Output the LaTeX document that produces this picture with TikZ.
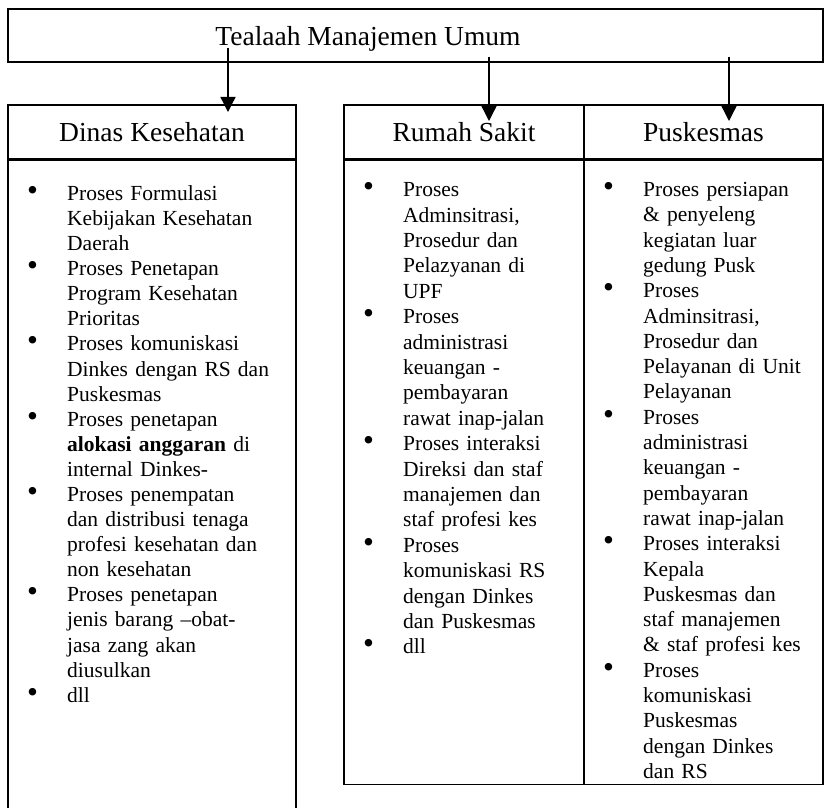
\documentclass[tikz,border=0pt]{standalone}
\usepackage{fontspec}
\setmainfont{Liberation Serif}
\usepackage{graphicx}
\usetikzlibrary{arrows.meta}
\newcommand{\headfont}{\fontsize{27.5pt}{30pt}\selectfont}
\newcommand{\nl}{\newline}
\newcommand{\itm}[1]{\par\hangindent=59pt\hangafter=1\noindent\makebox[59pt][l]{\rule{0pt}{18pt}\hspace{19pt}\scalebox{1.45}{\textbullet}}#1\par}
\begin{document}
\begin{tikzpicture}[x=1pt,y=-1pt,
  cell/.style={draw, line width=1.2pt, inner sep=0pt},
  head/.style={cell, minimum height=54pt, font=\headfont},
  body/.style={anchor=north west, inner sep=0pt, text width=290pt},
  arr/.style={line width=1.3pt, -{Triangle[width=15pt,length=15pt]}}]
\useasboundingbox (0,0) rectangle (825,808);
\clip (0,0) rectangle (825,808);
% top box
\node[cell, minimum width=815pt, minimum height=53pt] (topbox) at (415.5,35.5) {};
\node[anchor=base, inner sep=0pt, font=\headfont] (title) at (368,46) {Tealaah Manajemen Umum};
% header cells
\node[head, minimum width=288pt] (dinasH) at (152,132) {Dinas Kesehatan};
\node[head, minimum width=240pt] (rsH) at (464,132) {Rumah Sakit};
\node[head, minimum width=239pt] (puskH) at (703.5,132) {Puskesmas};
% body cells
\node[cell, minimum width=288pt, minimum height=680pt, anchor=north] (dinasB) at (dinasH.south) {};
\node[cell, minimum width=240pt, minimum height=624pt, anchor=north] (rsB) at (rsH.south) {};
\node[cell, minimum width=239pt, minimum height=624pt, anchor=north] (puskB) at (puskH.south) {};
% arrows
\coordinate (a1s) at (228,48);
\coordinate (a1e) at (228,112);
\coordinate (a2s) at (489,57);
\coordinate (a2e) at (489,121);
\coordinate (a3s) at (729,57);
\coordinate (a3e) at (729,121);
\draw[arr] (a1s) -- (a1e);
\draw[arr] (a2s) -- (a2e);
\draw[arr] (a3s) -- (a3e);
% body texts
\node[body, font=\fontsize{21.5pt}{25.1pt}\selectfont] (dinasT) at (8,175) {%
\itm{Proses Formulasi\nl Kebijakan Kesehatan\nl Daerah}
\itm{Proses Penetapan\nl Program Kesehatan\nl Prioritas}
\itm{Proses komuniskasi\nl Dinkes dengan RS dan\nl Puskesmas}
\itm{Proses penetapan\nl \textbf{alokasi anggaran} di\nl internal Dinkes-}
\itm{Proses penempatan\nl dan distribusi tenaga\nl profesi kesehatan dan\nl non kesehatan}
\itm{Proses penetapan\nl jenis barang –obat-\nl jasa zang akan\nl diusulkan}
\itm{dll}};
\node[body, font=\fontsize{21.5pt}{25.4pt}\selectfont] (rsT) at (344,171) {%
\itm{Proses\nl Adminsitrasi,\nl Prosedur dan\nl Pelazyanan di\nl UPF}
\itm{Proses\nl administrasi\nl keuangan -\nl pembayaran\nl rawat inap-jalan}
\itm{Proses interaksi\nl Direksi dan staf\nl manajemen dan\nl staf profesi kes}
\itm{Proses\nl komuniskasi RS\nl dengan Dinkes\nl dan Puskesmas}
\itm{dll}};
\node[body, font=\fontsize{21.5pt}{25.3pt}\selectfont] (puskT) at (584,171) {%
\itm{Proses persiapan\nl \& penyeleng\nl kegiatan luar\nl gedung Pusk}
\itm{Proses\nl Adminsitrasi,\nl Prosedur dan\nl Pelayanan di Unit\nl Pelayanan}
\itm{Proses\nl administrasi\nl keuangan -\nl pembayaran\nl rawat inap-jalan}
\itm{Proses interaksi\nl Kepala\nl Puskesmas dan\nl staf manajemen\nl \& staf profesi kes}
\itm{Proses\nl komuniskasi\nl Puskesmas\nl dengan Dinkes\nl dan RS}};
\end{tikzpicture}
\end{document}
